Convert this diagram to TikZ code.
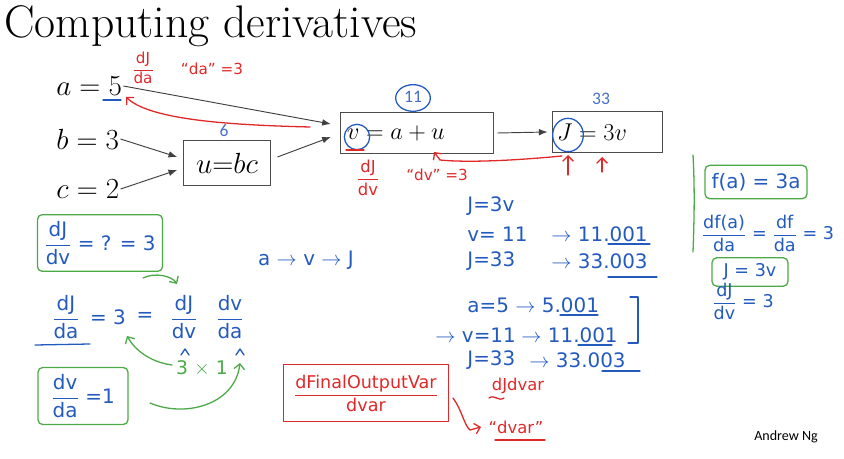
\documentclass[tikz,border=0pt]{standalone}
\usepackage{amsmath}
\usepackage{fontspec}
\newfontfamily\handfont{DejaVu Sans}
\newfontfamily\slidefont{Carlito}
\usetikzlibrary{arrows.meta}

\definecolor{penblue}{RGB}{35,90,190}
\definecolor{penred}{RGB}{225,40,40}
\definecolor{pengreen}{RGB}{75,170,70}
\definecolor{numblue}{RGB}{70,110,200}

\newcommand{\penat}[1]{\handfont\fontsize{#1}{#1}\selectfont}
\newcommand{\hfr}[2]{$\dfrac{\text{#1}}{\text{#2}}$}

\begin{document}
\begin{tikzpicture}[x=0.03cm, y=-0.03cm,
        every node/.style={inner sep=1pt},
        var/.style={anchor=west, font=\fontsize{23}{25}\selectfont},
        blk/.style={draw=black!70, thick, minimum height=1.23cm, font=\fontsize{22}{24}\selectfont},
        wire/.style={-{Latex[length=2.6mm,width=2mm]}, black!75, thick},
        num/.style={text=numblue, font=\slidefont\fontsize{15}{16}\selectfont},
        bluepen/.style={text=penblue, font=\penat{17}},
        redpen/.style={text=penred, font=\penat{13}},
        greenpen/.style={text=pengreen, font=\penat{16}},
        stroke/.style={line width=1.1pt, line cap=round, line join=round},
        barb/.style={-{Straight Barb[length=1.6mm]}},
        gbox/.style={draw=pengreen, stroke, rounded corners=4pt}
    ]
        \useasboundingbox (0,0) rectangle (844,459);

        % Title
        \node[anchor=base west, inner sep=0pt, font=\fontsize{39}{43}\selectfont] (title) at (4,38) {Computing derivatives};

        % Graph
        \node[var] (a) at (55,86) {$a = 5$};
        \node[var] (b) at (55,139) {$b = 3$};
        \node[var] (c) at (55,189) {$c = 2$};
        \node[blk, minimum width=2.6cm, minimum height=1.35cm, font=\fontsize{25}{26}\selectfont] (u) at (227,163) {$u{=}bc$};
        \node[blk, minimum width=4.6cm, text width=4.2cm, align=left] (v) at (417,133) {$v = a + u$};
        \node[blk, minimum width=3.3cm, text width=3.0cm, align=left] (J) at (607,132) {$J = 3v$};

        \draw[wire] (a.east) -- ([xshift=-0.27cm,yshift=0.27cm]v.west);
        \draw[wire] (b.east) -- ([xshift=-0.18cm,yshift=0.18cm]u.west);
        \draw[wire] (c.east) -- ([xshift=-0.18cm,yshift=-0.21cm]u.west);
        \draw[wire] ([xshift=0.2cm,yshift=0.18cm]u.east) -- ([xshift=-0.27cm,yshift=-0.12cm]v.west);
        \draw[wire] ([xshift=0.1cm]v.east) -- ([xshift=-0.12cm]J.west);

        % Values
        \node[num] (usix) at (224,131) {6};
        \node[num] (veleven) at (413,97) {11};
        \node[num] (jthree) at (601,99) {33};
        \draw[penblue, stroke] (413,98) ellipse [x radius=0.52cm, y radius=0.4cm];
        \draw[penblue, stroke] (357,137) ellipse [x radius=0.38cm, y radius=0.38cm];
        \draw[penblue, stroke] (568,135) ellipse [x radius=0.46cm, y radius=0.5cm];
        \draw[penblue, stroke] (103,100) -- (121,100);

        % Backward pass (red)
        \node[redpen] (dJda) at (143,68) {\hfr{dJ}{da}};
        \node[redpen] (daq) at (212,69) {“da” =3};
        \draw[penred, stroke, barb] (310,127) .. controls (230,125) and (150,120) .. (126,97);
        \node[redpen, font=\penat{14}] (dJdv) at (368,178) {\hfr{dJ}{dv}};
        \node[redpen] (dvq) at (437,175) {“dv” =3};
        \draw[penred, stroke] (346,150) -- (364,150);
        \draw[penred, stroke, barb] (562,156) .. controls (520,160) and (470,163) .. (440,160) -- (434,152);
        \draw[penred, stroke, barb] (568,175) -- (568,155);
        \draw[penred, stroke, barb] (602,172) -- (602,157);

        % Nudging a and v
        \node[bluepen, anchor=west] (jv) at (466,206) {J=3v};
        \node[bluepen, anchor=west] (v11) at (466,234) {v= 11};
        \node[bluepen, anchor=west] (v11n) at (550,234) {$\rightarrow$ 11.001};
        \node[bluepen, anchor=west] (j33) at (466,261) {J=33};
        \node[bluepen, anchor=west] (j33n) at (550,261) {$\rightarrow$ 33.003};
        \draw[penblue, stroke] (608,244) -- (650,244);
        \draw[penblue, stroke] (608,277) -- (657,277);

        \node[bluepen, anchor=west] (a5) at (466,305) {a=5};
        \node[bluepen, anchor=west] (a5n) at (514,305) {$\rightarrow$ 5.001};
        \node[bluepen, anchor=west] (v11b) at (434,335) {$\rightarrow$ v=11};
        \node[bluepen, anchor=west] (v11bn) at (520,335) {$\rightarrow$ 11.001};
        \node[bluepen, anchor=west] (j33b) at (466,360) {J=33};
        \node[bluepen, anchor=west] (j33bn) at (528,360) {$\rightarrow$ 33.003};
        \draw[penblue, stroke] (560,315) -- (598,315);
        \draw[penblue, stroke] (578,345) -- (612,345);
        \draw[penblue, stroke] (602,371) -- (640,371);
        \draw[penblue, stroke] (630,297) -- (638,297) -- (638,343) -- (628,343);

        \node[bluepen] (path) at (306,260) {a $\rightarrow$ v $\rightarrow$ J};

        % Chain rule
        \node[gbox, minimum width=3.75cm, minimum height=1.7cm, bluepen] (gq) at (100,243) {\hfr{dJ}{dv} = ? = 3};
        \node[bluepen] (cda) at (66,317) {\hfr{dJ}{da}};
        \node[bluepen] (cthree) at (108,317) {= 3};
        \node[bluepen] (ceq) at (145,317) {=};
        \node[bluepen] (cdv) at (184,317) {\hfr{dJ}{dv}};
        \node[bluepen] (cva) at (230,317) {\hfr{dv}{da}};
        \draw[penblue, stroke] (35,345) -- (90,344);
        \draw[penblue, stroke] (181,355) -- (185,349) -- (189,355);
        \draw[penblue, stroke] (236,355) -- (240,349) -- (244,355);
        \draw[pengreen, stroke, barb] (143,278) .. controls (155,272) and (172,276) .. (177,284);
        \node[greenpen] (times) at (202,368) {3 $\times$ 1};
        \draw[pengreen, stroke, barb] (172,365) .. controls (150,362) and (135,350) .. (127,336);
        \node[gbox, minimum width=2.7cm, minimum height=1.71cm, bluepen] (gva) at (83,396) {\hfr{dv}{da} =1};
        \draw[pengreen, stroke, barb] (150,403) .. controls (185,418) and (235,405) .. (240,363);

        % Naming
        \node[draw=penred, stroke, minimum width=4.95cm, minimum height=1.71cm, redpen, font=\penat{15}] (fin) at (366,393) {\hfr{dFinalOutputVar}{dvar}};
        \draw[penred, stroke, barb] (453,398) .. controls (462,410) and (464,425) .. (470,430) -- (481,427);
        \node[redpen, font=\penat{14}] (dJdvar) at (518,386) {dJdvar};
        \draw[penred, stroke] (489,398) .. controls (495,394) and (498,402) .. (504,398);
        \node[redpen, font=\penat{14}] (dvarq) at (516,427) {“dvar”};
        \draw[penred, stroke] (495,440) -- (545,440);

        % Side note
        \draw[pengreen, stroke] (693,155) .. controls (695,190) and (694,225) .. (693,252);
        \node[gbox, minimum width=3.06cm, minimum height=1cm, bluepen] (fa) at (756,182) {f(a) = 3a};
        \node[bluepen, font=\penat{15}] (dfa) at (768,233) {\hfr{df(a)}{da} = \hfr{df}{da} = 3};
        \node[gbox, minimum width=2.28cm, minimum height=0.85cm, bluepen, font=\penat{15}] (jside) at (750,272) {J = 3v};
        \node[bluepen, font=\penat{15}] (dJdvside) at (743,301) {\hfr{dJ}{dv} = 3};

        \node[font=\slidefont\fontsize{12}{14}\selectfont] (credit) at (786,437) {Andrew Ng};
\end{tikzpicture}
\end{document}
